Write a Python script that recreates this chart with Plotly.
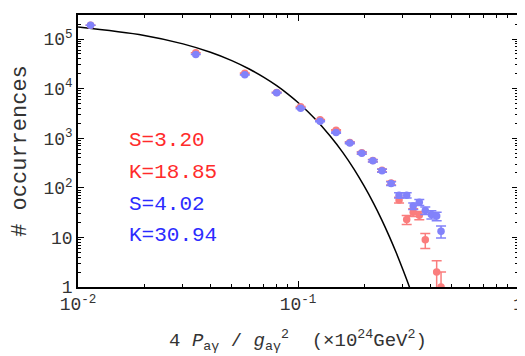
import plotly.graph_objects as go

# binned occurrences (red and blue samples)
red_x = [0.0114, 0.0343, 0.0573, 0.080, 0.1028, 0.126, 0.149, 0.172, 0.195, 0.219,
         0.241, 0.265, 0.288, 0.312, 0.334, 0.356, 0.379, 0.427, 0.447]
red_y = [1.9e5, 5.3e4, 2.05e4, 8.4e3, 4.3e3, 2.35e3, 1.45e3, 820, 510, 355,
         225, 125, 57, 23, 32, 28, 9, 2, 1]
red_err = [440, 230, 143, 92, 66, 48, 38, 29, 23, 19, 15, 11, 7.5, 4.8, 5.7, 5.3, 3, 1.4, 1]
red_err_minus = [440, 230, 143, 92, 66, 48, 38, 29, 23, 19, 15, 11, 7.5, 4.8, 5.7, 5.3, 3, 1.4, 0.95]

blue_x = [0.0114, 0.0343, 0.0573, 0.080, 0.1028, 0.126, 0.149, 0.172, 0.195, 0.219,
          0.241, 0.265, 0.288, 0.312, 0.334, 0.356, 0.379, 0.404, 0.427, 0.447]
blue_y = [1.9e5, 4.9e4, 1.9e4, 8.3e3, 4.0e3, 2.2e3, 1.3e3, 800, 500, 350,
          222, 122, 71, 71, 43, 51, 35, 29, 27, 13.3]
blue_err = [440, 220, 138, 91, 63, 47, 36, 28, 22, 19, 15, 11, 8.4, 8.4, 6.6, 7.1, 5.9, 5.4, 5.2, 3.6]

# reference curve
curve_x = [0.01, 0.02, 0.03, 0.04, 0.05, 0.06, 0.07, 0.08, 0.09, 0.10, 0.12, 0.14,
           0.16, 0.18, 0.20, 0.22, 0.24, 0.26, 0.28, 0.30, 0.321, 0.33]
curve_y = [1.74e5, 1.18e5, 8.0e4, 5.42e4, 3.68e4, 2.49e4, 1.69e4, 1.15e4, 7.77e3, 5.27e3,
           2.42e3, 1.11e3, 513, 236, 108, 49.8, 22.9, 10.5, 4.83, 2.22, 1.0, 0.7]

stats = [("S=3.20", "#ff2b2b"), ("K=18.85", "#ff2b2b"),
         ("S=4.02", "#2b2bff"), ("K=30.94", "#2b2bff")]

mono = "Liberation Mono"

fig = go.Figure()
fig.add_trace(go.Scatter(x=curve_x, y=curve_y, mode="lines", line=dict(color="black", width=1.5),
                         line_shape="spline"))
fig.add_trace(go.Scatter(x=red_x, y=red_y, mode="markers",
                         marker=dict(color="rgb(250,125,125)", size=7.5),
                         error_y=dict(type="data", array=red_err, arrayminus=red_err_minus,
                                      color="rgb(250,125,125)", thickness=1.5, width=5)))
fig.add_trace(go.Scatter(x=blue_x, y=blue_y, mode="markers",
                         marker=dict(color="rgb(130,130,250)", size=7.5),
                         error_y=dict(type="data", array=blue_err,
                                      color="rgb(130,130,250)", thickness=1.5, width=5)))

for i, (txt, col) in enumerate(stats):
    fig.add_annotation(x=0.111, y=0.539 - i * 0.117, xref="paper", yref="paper",
                       xanchor="left", yanchor="middle", text=txt, showarrow=False,
                       font=dict(family=mono, size=21, color=col))

# label for the x=1 tick at the right edge
fig.add_annotation(x=1, xref="paper", y=0, yref="paper", xanchor="center", yanchor="top",
                   yshift=-6, text="1", showarrow=False,
                   font=dict(family=mono, size=18, color="#333"))

minor_x = [2e-2, 3e-2, 4e-2, 5e-2, 6e-2, 7e-2, 8e-2, 9e-2, 0.2, 0.3, 0.4, 0.5, 0.6, 0.7, 0.8, 0.9]
minor_y = [m * 10 ** e for e in range(0, 6) for m in range(2, 10)]

fig.update_xaxes(type="log", range=[-2.0002, 0.0002], showgrid=False, zeroline=False,
                 showline=True, linecolor="black", linewidth=1.5, mirror="ticks",
                 ticks="inside", ticklen=6, tickcolor="black", automargin=False,
                 tickvals=[0.01, 0.1], ticktext=["10<sup>-2</sup>", "10<sup>-1</sup>"],
                 minor=dict(ticks="inside", ticklen=3, tickcolor="black", tickvals=minor_x),
                 tickfont=dict(family=mono, size=18, color="#333"),
                 title=dict(text="4 <i>P</i><sub>aγ</sub> / <i>g</i><sub>aγ</sub><sup>2</sup>  (×10<sup>24</sup>GeV<sup>2</sup>)",
                            font=dict(family=mono, size=19, color="#333"), standoff=18))
fig.update_yaxes(type="log", range=[0, 5.485], showgrid=False, zeroline=False,
                 showline=True, linecolor="black", linewidth=1.5, mirror="ticks",
                 ticks="inside", ticklen=6, tickcolor="black", automargin=False,
                 tickvals=[1, 10, 100, 1e3, 1e4, 1e5],
                 ticktext=["1", "10", "10<sup>2</sup>", "10<sup>3</sup>", "10<sup>4</sup>", "10<sup>5</sup>"],
                 minor=dict(ticks="inside", ticklen=3, tickcolor="black", tickvals=minor_y),
                 tickfont=dict(family=mono, size=18, color="#333"),
                 title=dict(text="# occurrences", font=dict(family=mono, size=22, color="#333"),
                            standoff=18))

# the page body adds an 8px offset, so the figure is 8px smaller than the window
fig.update_layout(width=517, height=348, showlegend=False,
                  plot_bgcolor="white", paper_bgcolor="white",
                  margin=dict(l=70, r=7, t=7, b=69))

fig.write_html("out.html")
